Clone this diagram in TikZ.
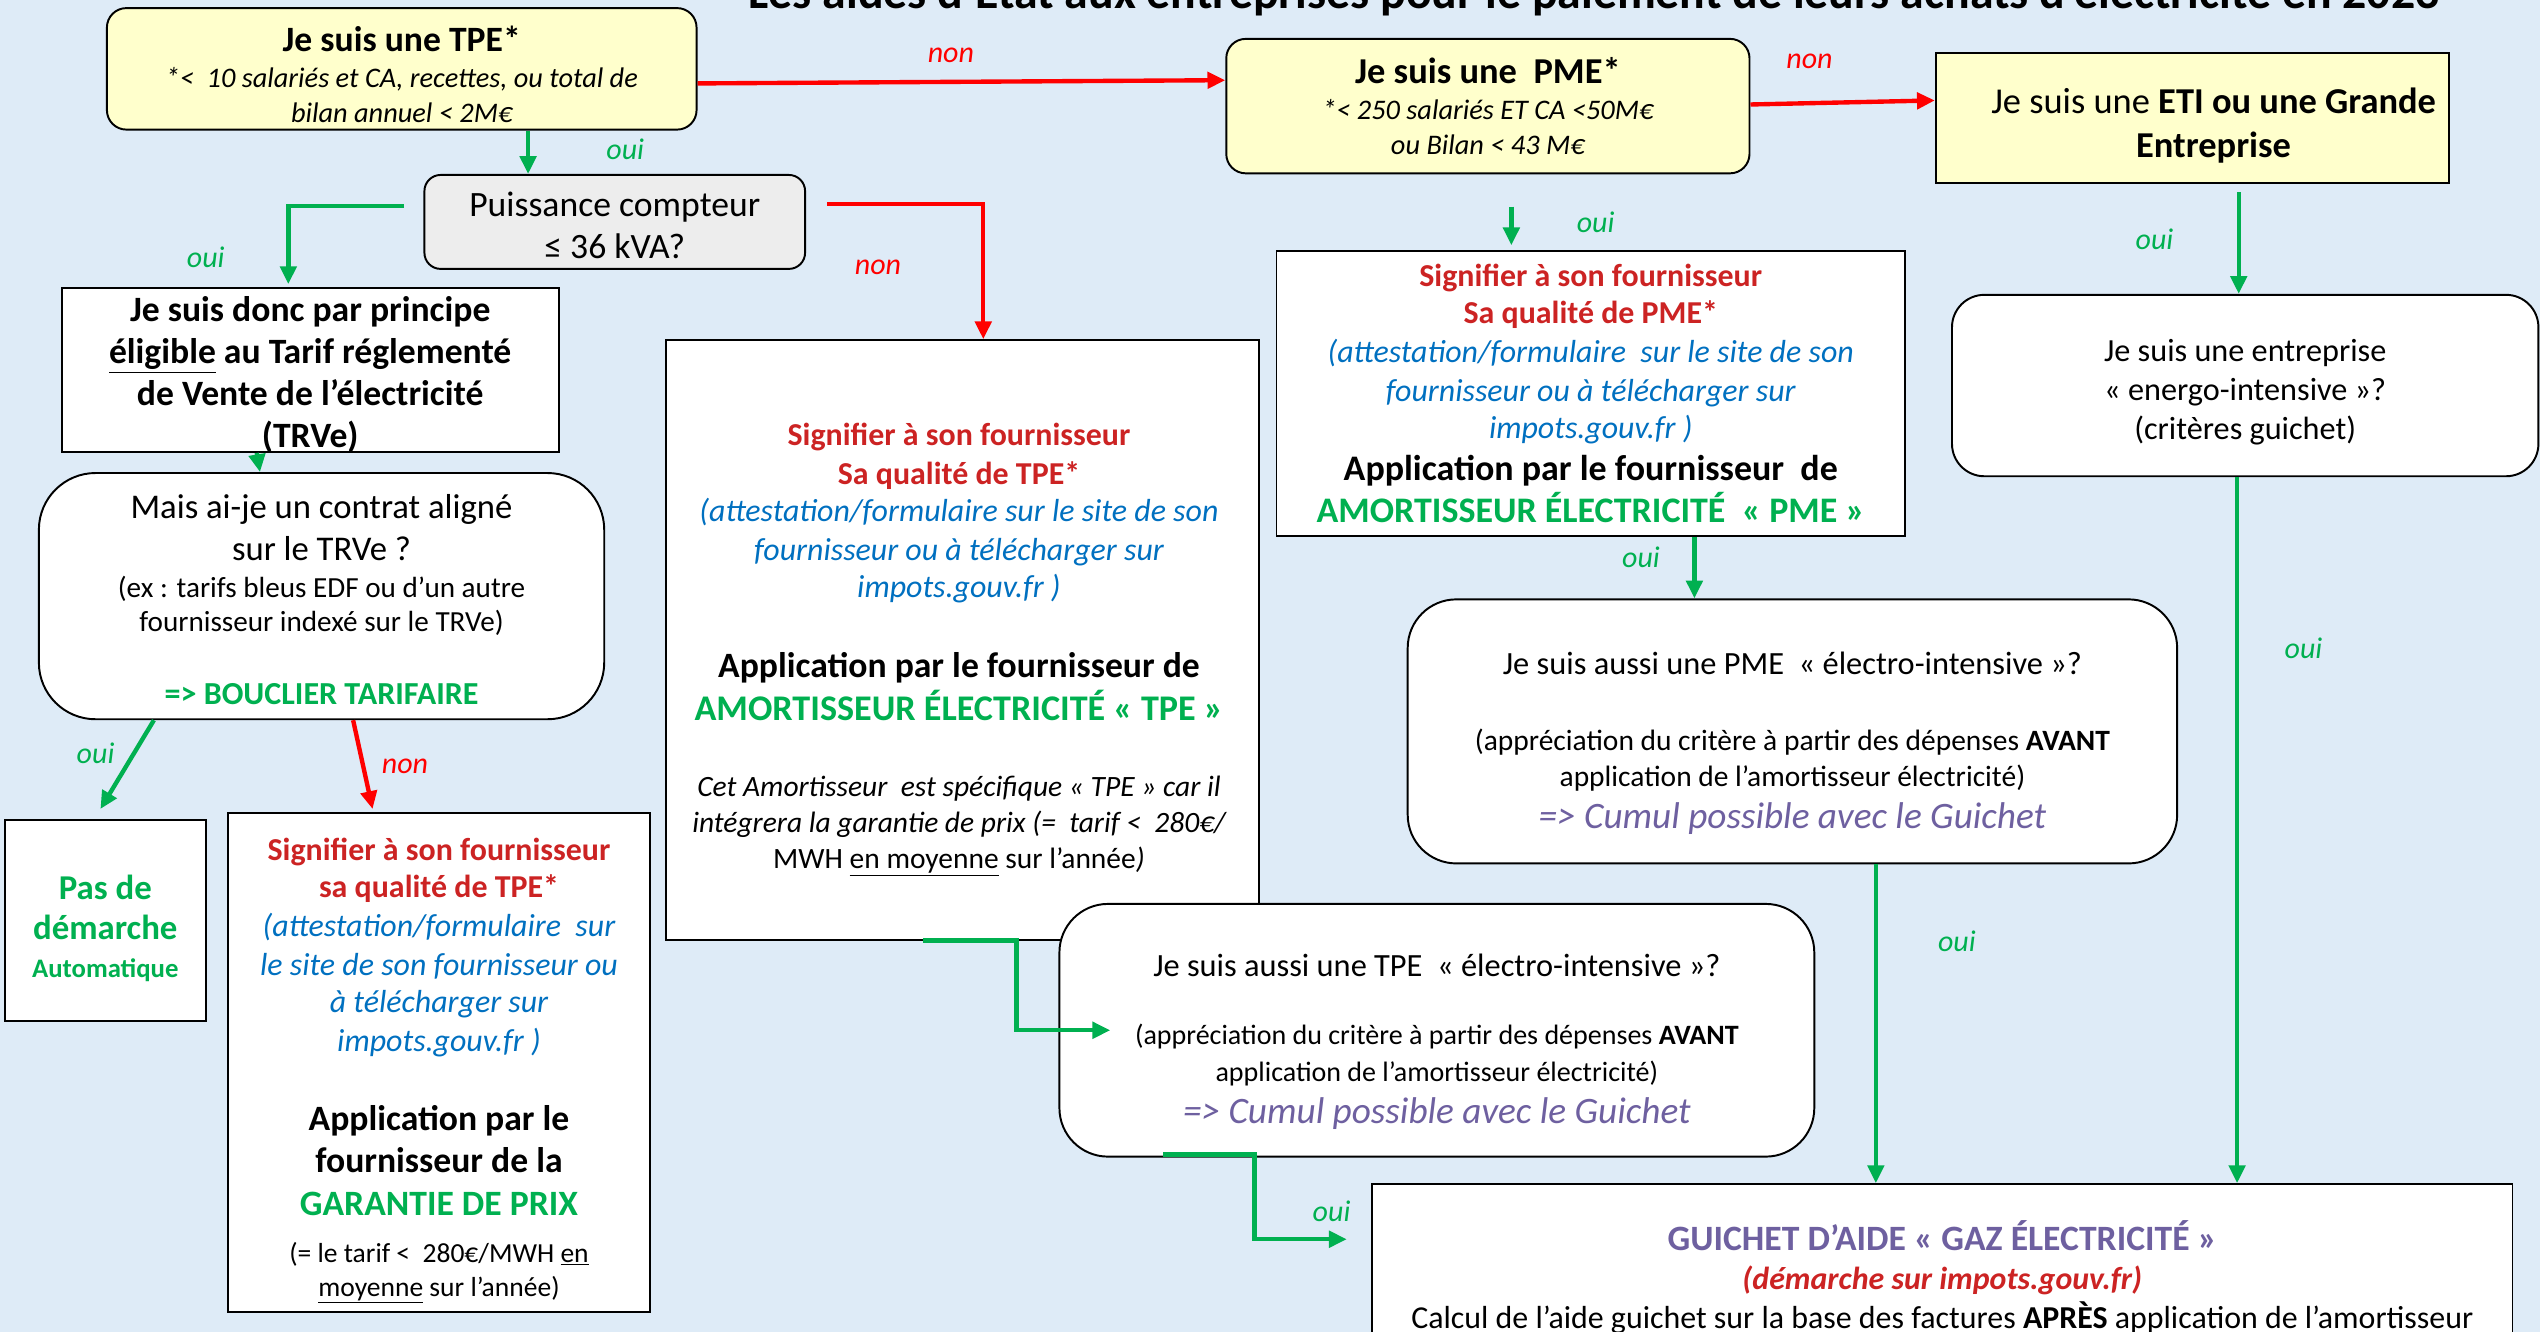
\documentclass[tikz,border=0pt]{standalone}
\usepackage{fontspec}
\setmainfont{Carlito}
\usetikzlibrary{arrows.meta}

\definecolor{fond}{RGB}{222,235,247}
\definecolor{jaune}{RGB}{255,255,204}
\definecolor{gris}{RGB}{237,237,237}
\definecolor{vert}{RGB}{0,176,80}
\definecolor{rougevif}{RGB}{255,0,0}
\definecolor{rouge}{RGB}{204,35,35}
\definecolor{bleu}{RGB}{0,112,192}
\definecolor{violet}{RGB}{110,96,160}

\newcommand{\fs}[2]{\fontsize{#1}{#2}\selectfont}

\begin{document}
\begin{tikzpicture}[x=1pt, y=-1pt,
  boite/.style={draw, line width=1.2pt, fill=white, inner sep=0pt},
  jaunebox/.style={boite, fill=jaune},
  texte/.style={align=center, inner sep=0pt},
  oui/.style={draw=vert, line width=2.7pt, -{Triangle[length=11pt,width=10pt]}},
  non/.style={draw=rougevif, line width=2.7pt, -{Triangle[length=11pt,width=10pt]}},
  ouitxt/.style={text=vert, font=\fs{18.5}{22}\itshape},
  nontxt/.style={text=rougevif, font=\fs{18.5}{22}\itshape}]

  \clip (0,0) rectangle (1568,822);
  \useasboundingbox (0,0) rectangle (1568,822);
  \fill[fond] (0,0) rectangle (1568,822);

  % titre, coupe en haut
  \node[anchor=base, font=\fs{29.5}{34}\bfseries] (titre) at (984,5)
    {Les aides d’État aux entreprises pour le paiement de leurs achats d’électricité en 2023};

  % ligne du haut
  \node[jaunebox, rounded corners=12pt, minimum width=364pt, minimum height=75pt] (tpe) at (248,42.5) {};
  \node[texte, font=\fs{17.5}{22}] (tpeTxt) at ([yshift=-3.5pt]tpe.center)
    {{\fs{22}{22}\bfseries Je suis une TPE*}\\
     {\itshape *<~ 10 salariés et CA, recettes, ou total de}\\
     {\itshape bilan annuel < 2M€}};
  \node[jaunebox, rounded corners=12pt, minimum width=323pt, minimum height=83pt] (pme) at (918.5,65.5) {};
  \node[texte, font=\fs{17.5}{22}] (pmeTxt) at (pme.center)
    {{\fs{22.5}{22}\bfseries Je suis une~ PME*}\\
     {\itshape *< 250 salariés ET CA <50M€}\\
     {\itshape ou Bilan < 43 M€}};
  \node[jaunebox, minimum width=317pt, minimum height=80pt] (eti) at (1353.5,73) {};
  \node[texte, font=\fs{22.5}{27}] (etiTxt) at ([xshift=13pt,yshift=-4.5pt]eti.center)
    {Je suis une \textbf{ETI ou une Grande}\\ \textbf{Entreprise}};

  % branche TPE
  \node[boite, fill=gris, rounded corners=10pt, minimum width=235pt, minimum height=58pt] (kva) at (379.5,137) {};
  \node[texte, font=\fs{22}{26}] (kvaTxt) at ([yshift=-2pt]kva.center)
    {Puissance compteur\\ ≤ 36 kVA?};
  \node[boite, minimum width=307pt, minimum height=101pt] (trv) at (191.5,228.5) {};
  \node[texte, font=\fs{22}{26}\bfseries] (trvTxt) at ([yshift=-3pt]trv.center)
    {Je suis donc par principe\\ \underline{éligible} au Tarif réglementé\\
     de Vente de l’électricité\\ (TRVe)};
  \node[boite, rounded corners=35pt, minimum width=349pt, minimum height=152pt] (contrat) at (198.5,368) {};
  \node[texte, font=\fs{21.4}{26}] (contratTxt) at ([yshift=-2pt]contrat.center)
    {Mais ai-je un contrat aligné\\ sur le TRVe ?\\[-3pt]
     {\fs{18}{21}(ex : tarifs bleus EDF ou d’un autre}\\[-5pt]
     {\fs{18}{21}fournisseur indexé sur le TRVe)}\\[19pt]
     {\fs{19.8}{23}\bfseries\color{vert}=> BOUCLIER TARIFAIRE}};
  \node[boite, minimum width=124pt, minimum height=124pt] (auto) at (65,568) {};
  \node[texte, font=\fs{21.5}{25}\bfseries, text=vert] (autoTxt) at ([yshift=-5pt]auto.center)
    {Pas de\\ démarche\\[-2pt] {\fs{16.5}{20}Automatique}};
  \node[boite, minimum width=260pt, minimum height=308pt] (garantie) at (271,656) {};
  \node[texte, font=\fs{19.7}{24}] (garantieTxt) at ([yshift=-5pt]garantie.center)
    {{\bfseries\color{rouge}Signifier à son fournisseur}\\[-1pt]
     {\bfseries\color{rouge}sa qualité de TPE*}\\
     {\itshape\color{bleu}(attestation/formulaire~ sur}\\
     {\itshape\color{bleu}le site de son fournisseur ou}\\[-1pt]
     {\itshape\color{bleu}à télécharger sur}\\
     {\itshape\color{bleu}impots.gouv.fr )}\\[25pt]
     {\fs{22}{26}\bfseries Application par le}\\[2pt]
     {\fs{22}{26}\bfseries fournisseur de la}\\[2pt]
     {\fs{22}{26}\bfseries\color{vert}GARANTIE DE PRIX}\\[5pt]
     {\fs{17}{21}(= le tarif <~ 280€/MWH \underline{en}}\\[-3pt]
     {\fs{17}{21}\underline{moyenne} sur l’année)}};
  \node[boite, minimum width=366pt, minimum height=370pt] (amortTPE) at (594,395) {};
  \node[texte, font=\fs{19.7}{24}] (amortTPETxt) at ([xshift=-2pt,yshift=-6pt]amortTPE.center)
    {{\bfseries\color{rouge}Signifier à son fournisseur}\\
     {\bfseries\color{rouge}Sa qualité de TPE*}\\[-1pt]
     {\itshape\color{bleu}(attestation/formulaire sur le site de son}\\
     {\itshape\color{bleu}fournisseur ou à télécharger sur}\\[-1pt]
     {\itshape\color{bleu}impots.gouv.fr )}\\[25pt]
     {\fs{22}{24}\bfseries Application par le fournisseur de}\\[3pt]
     {\fs{22.3}{26}\bfseries\color{vert}AMORTISSEUR ÉLECTRICITÉ « TPE »}\\[23pt]
     {\fs{18.2}{22}\itshape Cet Amortisseur~ est spécifique « TPE » car il}\\[-2pt]
     {\fs{18.2}{22}\itshape intégrera la garantie de prix (=~ tarif <~ 280€/}\\[-2pt]
     {\fs{18.2}{22}MWH \underline{en moyenne} sur l’année\textit{)}}};
  \node[boite, rounded corners=30pt, minimum width=466pt, minimum height=156pt] (elecTPE) at (887,636) {};
  \node[texte, font=\fs{17.3}{22}] (elecTPETxt) at ([yshift=-7pt]elecTPE.center)
    {{\fs{20}{22}Je suis aussi une TPE~ « électro-intensive »?}\\[20pt]
     (appréciation du critère à partir des dépenses \textbf{AVANT}\\[1pt]
     application de l’amortisseur électricité)\\[4pt]
     {\fs{23}{24}\itshape\color{violet}=> Cumul possible avec le Guichet}};

  % branche PME
  \node[boite, minimum width=388pt, minimum height=176pt] (signPME) at (982,243) {};
  \node[texte, font=\fs{19.7}{24}] (signPMETxt) at (signPME.center)
    {{\bfseries\color{rouge}Signifier à son fournisseur}\\[-1pt]
     {\bfseries\color{rouge}Sa qualité de PME*}\\
     {\itshape\color{bleu}(attestation/formulaire~ sur le site de son}\\
     {\itshape\color{bleu}fournisseur ou à télécharger sur}\\[-1pt]
     {\itshape\color{bleu}impots.gouv.fr )}\\[2pt]
     {\fs{22.2}{24}\bfseries Application par le fournisseur~ de}\\[2pt]
     {\fs{22.2}{26}\bfseries\color{vert}AMORTISSEUR ÉLECTRICITÉ~ « PME »}};
  \node[boite, rounded corners=30pt, minimum width=475pt, minimum height=163pt] (elecPME) at (1106.5,451.5) {};
  \node[texte, font=\fs{18.2}{22}] (elecPMETxt) at ([yshift=-7.5pt]elecPME.center)
    {{\fs{20}{22}Je suis aussi une PME~ « électro-intensive »?}\\[25pt]
     (appréciation du critère à partir des dépenses \textbf{AVANT}\\
     application de l’amortisseur électricité)\\[4pt]
     {\fs{23}{24}\itshape\color{violet}=> Cumul possible avec le Guichet}};

  % branche ETI
  \node[boite, rounded corners=20pt, minimum width=362pt, minimum height=112pt] (energo) at (1386,238) {};
  \node[texte, font=\fs{19.9}{24}] (energoTxt) at ([yshift=-4pt]energo.center)
    {Je suis une entreprise\\ « energo-intensive »?\\ (critères guichet)};

  % guichet, coupe en bas
  \node[boite, minimum width=704pt, minimum height=114pt] (guichet) at (1199,788) {};
  \node[texte, font=\fs{19.7}{24}] (guichetTxt) at ([yshift=-0.5pt]guichet.center)
    {{\fs{22}{25}\bfseries\color{violet}GUICHET D’AIDE « GAZ ÉLECTRICITÉ »}\\
     {\bfseries\itshape\color{rouge}(démarche sur impots.gouv.fr)}\\
     Calcul de l’aide guichet sur la base des factures \textbf{APRÈS} application de l’amortisseur};

  % fleches
  \draw[non] ([yshift=-9pt]tpe.east) -- ([yshift=16pt]pme.west);
  \draw[non] ([yshift=1pt]pme.east) -- ([yshift=11pt]eti.west);
  \draw[oui] ([xshift=78pt]tpe.south) -- ([xshift=-53.5pt]kva.north);
  \draw[oui] ([xshift=-12pt,yshift=10pt]kva.west) -| ([xshift=-13.5pt,yshift=2pt]trv.north);
  \draw[non] ([xshift=13pt,yshift=11pt]kva.east) -| ([xshift=13pt]amortTPE.north);
  \draw[oui] ([xshift=-33pt]trv.south) -- ([xshift=-38pt]contrat.north);
  \draw[oui] ([xshift=-103.5pt]contrat.south) -- ([xshift=-3pt,yshift=6pt]auto.north);
  \draw[non] ([xshift=19.5pt]contrat.south) -- ([xshift=-41pt,yshift=2pt]garantie.north);
  \draw[oui] ([xshift=-24pt]amortTPE.south) -| ([xshift=-26pt]elecTPE.west)
    -- ([xshift=32pt]elecTPE.west);
  \draw[oui] ([xshift=-169pt,yshift=2pt]elecTPE.south) -| ([xshift=-72pt,yshift=23pt]guichet.west)
    -- ([xshift=-15pt,yshift=23pt]guichet.west);
  \draw[oui] ([xshift=14.5pt,yshift=-20pt]pme.south) -- ([xshift=-49pt,yshift=3pt]signPME.north);
  \draw[oui] ([xshift=64pt]signPME.south) -- ([xshift=-60.5pt]elecPME.north);
  \draw[oui] ([xshift=51.5pt]elecPME.south) -- ([xshift=-41pt]guichet.north);
  \draw[oui] ([xshift=28.5pt,yshift=-5pt]eti.south) -- ([xshift=-4pt]energo.north);
  \draw[oui] ([xshift=-5pt]energo.south) -- ([xshift=182pt]guichet.north);

  % oui / non
  \node[nontxt] (n1) at (587,34) {non};
  \node[nontxt] (n2) at (1117,38) {non};
  \node[nontxt] (n3) at (542,165) {non};
  \node[nontxt] (n4) at (250,473) {non};
  \node[ouitxt] (o1) at (386,92) {oui};
  \node[ouitxt] (o2) at (127,159) {oui};
  \node[ouitxt] (o3) at (59,465) {oui};
  \node[ouitxt] (o4) at (985,137) {oui};
  \node[ouitxt] (o5) at (1013,344) {oui};
  \node[ouitxt] (o6) at (1330,148) {oui};
  \node[ouitxt] (o7) at (1422,400) {oui};
  \node[ouitxt] (o8) at (1208,581) {oui};
  \node[ouitxt] (o9) at (822,748) {oui};
\end{tikzpicture}
\end{document}
